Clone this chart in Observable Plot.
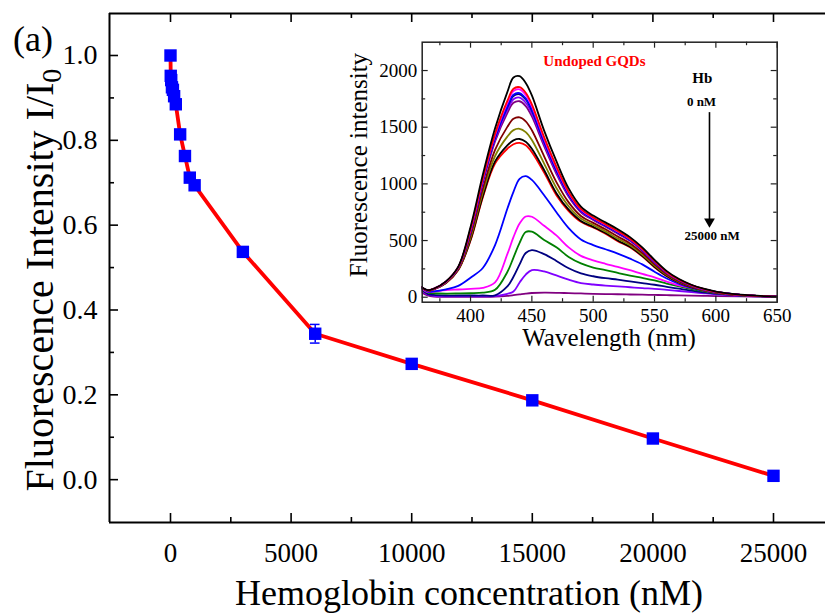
<!DOCTYPE html>
<html><head><meta charset="utf-8">
<script src="https://cdn.jsdelivr.net/npm/d3@7"></script>
<script src="https://cdn.jsdelivr.net/npm/@observablehq/plot@0.6"></script>
<style>
html,body{margin:0;padding:0;background:#fff;}
#chart{position:relative;width:825px;height:615px;overflow:hidden;font-family:"Liberation Serif","Times New Roman",serif;}
#chart svg{position:absolute;}
#chart svg text{font-family:"Liberation Serif","Times New Roman",serif !important;}
</style></head><body><div id="chart"></div>
<script>
// ---------- main chart data ----------
const concentration = [0, 10, 30, 60, 100, 150, 220, 400, 600, 800, 1000, 3000, 6000, 10000, 15000, 20000, 25000];
const ratio = [1.000, 0.952, 0.942, 0.925, 0.919, 0.904, 0.885, 0.814, 0.763, 0.712, 0.694, 0.537, 0.344, 0.273, 0.187, 0.097, 0.009];
const ratioErr = [0, 0.004, 0.004, 0.004, 0.004, 0.004, 0.004, 0.006, 0.006, 0.006, 0.006, 0.008, 0.022, 0.008, 0.008, 0.006, 0.006];
const xTicks = [0, 5000, 10000, 15000, 20000, 25000];
const xTickLabels = ["0", "5000", "10000", "15000", "20000", "25000"];
const xMinorTicks = [2500, 7500, 12500, 17500, 22500];
const yTicks = [0, 0.2, 0.4, 0.6, 0.8, 1.0];
const yTickLabels = ["0.0", "0.2", "0.4", "0.6", "0.8", "1.0"];
const yMinorTicks = [0.1, 0.3, 0.5, 0.7, 0.9];

// ---------- inset spectra data ----------
const wavelength = [360,365,370,380,390,400,410,420,430,435,440,445,450,460,470,480,490,500,510,520,530,540,550,560,570,580,590,600,620,650];
const spectraColors = ["#000000","#FF0000","#FF00FF","#0000FF","#000080","#8000FF","#800080","#800000","#808000","#000000","#FF0000","#0000FF","#FF00FF","#008000","#000080","#8000FF","#800080"];
const spec00 = [90,62,75,140,270,620,1080,1490,1810,1938,1950,1890,1780,1470,1200,960,800,720,660,600,530,440,330,230,160,110,75,50,22,5];
const spec01 = [89,61,74,138,265,601,1049,1441,1732,1839,1853,1804,1702,1412,1153,929,779,704,644,584,516,427,320,223,155,107,73,48,21,5];
const spec02 = [89,61,74,137,264,597,1042,1431,1715,1819,1834,1785,1685,1399,1143,922,774,700,641,580,513,425,318,221,154,106,72,48,21,5];
const spec03 = [89,61,74,136,263,590,1031,1413,1687,1787,1801,1754,1657,1379,1126,911,767,694,635,574,508,420,314,219,152,105,71,48,21,5];
const spec04 = [89,61,74,136,262,588,1027,1408,1677,1776,1790,1744,1647,1372,1120,907,764,692,633,572,506,419,313,218,151,104,71,47,21,5];
const spec05 = [88,61,73,135,261,582,1017,1392,1652,1747,1761,1716,1622,1353,1105,897,757,687,628,567,502,415,309,216,150,103,70,47,21,5];
const spec06 = [88,61,73,134,259,575,1006,1375,1625,1715,1729,1686,1595,1333,1089,886,750,681,623,561,497,410,306,213,148,102,69,46,21,5];
const spec07 = [87,60,72,131,252,546,957,1300,1503,1574,1587,1552,1473,1243,1016,837,717,656,599,536,475,391,290,202,140,96,66,44,20,5];
const spec08 = [86,59,71,128,246,526,923,1246,1417,1474,1486,1457,1387,1179,964,803,694,637,581,517,459,377,279,195,135,93,63,42,19,5];
const spec09 = [85,58,70,126,242,507,892,1198,1340,1384,1396,1372,1310,1122,918,772,673,621,566,501,445,365,269,188,130,89,61,41,18,5];
const spec10 = [85,58,70,125,240,500,880,1180,1310,1350,1362,1340,1280,1100,900,760,665,615,560,495,440,360,265,185,128,88,60,40,18,5];
const spec11 = [85,50,52,70,100,172,258,460,780,930,1045,1068,1035,900,750,610,510,460,423,385,340,290,225,165,118,82,58,40,18,5];
const spec12 = [80,45,50,62,68,74,82,130,380,530,650,712,710,630,545,440,365,325,295,268,238,205,175,138,105,82,58,40,18,5];
const spec13 = [75,40,35,32,33,35,40,65,222,350,480,575,578,505,440,355,298,262,240,215,190,170,148,120,95,72,52,36,17,5];
const spec14 = [70,30,20,15,15,15,15,17,95,180,290,390,415,380,320,255,210,185,168,155,140,125,110,92,75,58,43,31,15,5];
const spec15 = [60,25,12,8,8,8,8,10,30,50,130,200,240,228,192,155,125,112,103,96,88,80,74,65,55,45,35,26,13,5];
const spec16 = [45,15,5,3,3,3,3,5,12,18,25,32,37,40,39,36,33,30,28,26,24,22,20,18,16,14,12,10,7,4];
const spectra = [spec00,spec01,spec02,spec03,spec04,spec05,spec06,spec07,spec08,spec09,spec10,spec11,spec12,spec13,spec14,spec15,spec16];
const inXTicks = [400, 450, 500, 550, 600, 650];
const inXTickLabels = ["400", "450", "500", "550", "600", "650"];
const inXMinorTicks = [375, 425, 475, 525, 575, 625];
const inYTicks = [0, 500, 1000, 1500, 2000];
const inYTickLabels = ["0", "500", "1000", "1500", "2000"];
const inYMinorTicks = [250, 750, 1250, 1750];

// ---------- main plot ----------
const FONT = "Liberation Serif";
const W = 825, H = 615, mL = 109, mT = 13, mB = 93, mR = 0;
const innerW = W - mL - mR, innerH = H - mT - mB;
const xDom = [-2529, 27156], yDom = [-0.101, 1.099];
const points = concentration.map((c, i) => ({c, r: ratio[i], e: ratioErr[i]}));

const main = Plot.plot({
  width: W, height: H, marginLeft: mL, marginTop: mT, marginBottom: mB, marginRight: mR,
  x: {domain: xDom},
  y: {domain: yDom},
  style: {fontFamily: FONT, background: "transparent", overflow: "visible"},
  marks: [
    Plot.ruleY([yDom[0]], {stroke: "black", strokeWidth: 2}),
    Plot.ruleY([yDom[1]], {stroke: "black", strokeWidth: 2}),
    Plot.ruleX([xDom[0]], {stroke: "black", strokeWidth: 2}),
    Plot.tickX(xTicks, {x: d => d, insetTop: innerH - 9, stroke: "black", strokeWidth: 1.6}),
    Plot.tickX(xTicks, {x: d => d, insetBottom: innerH - 9, stroke: "black", strokeWidth: 1.6}),
    Plot.tickX(xMinorTicks, {x: d => d, insetTop: innerH - 5, stroke: "black", strokeWidth: 1.6}),
    Plot.tickX(xMinorTicks, {x: d => d, insetBottom: innerH - 5, stroke: "black", strokeWidth: 1.6}),
    Plot.tickY(yTicks, {y: d => d, insetRight: innerW - 9, stroke: "black", strokeWidth: 1.6}),
    Plot.tickY(yMinorTicks, {y: d => d, insetRight: innerW - 5, stroke: "black", strokeWidth: 1.6}),
    Plot.axisX(xTicks, {anchor: "bottom", tickSize: 0, tickPadding: 20, fontSize: 27, fontFamily: FONT, fill: "black",
      tickFormat: d => xTickLabels[xTicks.indexOf(d)], label: null}),
    Plot.axisY(yTicks, {anchor: "left", tickSize: 0, tickPadding: 12, fontSize: 28, fontFamily: FONT, fill: "black",
      tickFormat: d => yTickLabels[yTicks.indexOf(d)], label: null}),
    Plot.line(points, {x: "c", y: "r", stroke: "#FF0000", strokeWidth: 3.8}),
    Plot.ruleX(points, {x: "c", y1: d => d.r - d.e, y2: d => d.r + d.e, stroke: "#0000FF", strokeWidth: 1.5}),
    Plot.ruleY(points, {y: d => d.r + d.e, x1: d => d.c - 200, x2: d => d.c + 200, stroke: "#0000FF", strokeWidth: 1.5}),
    Plot.ruleY(points, {y: d => d.r - d.e, x1: d => d.c - 200, x2: d => d.c + 200, stroke: "#0000FF", strokeWidth: 1.5}),
    Plot.dot(points, {x: "c", y: "r", symbol: "square", r: 7, fill: "#0000FF", stroke: "none"})
  ]
});
main.style.left = "0px"; main.style.top = "0px";
const ms = d3.select(main);
ms.append("text").attr("x", 13).attr("y", 51).attr("text-anchor", "start").attr("font-size", 36)
  .attr("fill", "black").text("(a)");
const yt = ms.append("text").attr("transform", "translate(53,280) rotate(-90)").attr("text-anchor", "middle")
  .attr("font-size", 40).attr("fill", "black");
yt.append("tspan").text("Fluorescence Intensity I/I");
yt.append("tspan").attr("dy", "0.28em").attr("font-size", "28").text("0");
ms.append("text").attr("x", 469).attr("y", 605).attr("text-anchor", "middle").attr("font-size", 36)
  .attr("fill", "black").text("Hemoglobin concentration (nM)");
document.getElementById("chart").appendChild(main);

// ---------- inset plot ----------
const iLeft = 340, iTop = 28, iW = 450, iH = 335;
const imL = 81.7, imT = 13.7, imR = 13.3, imB = 61.3;
const iInnerW = iW - imL - imR, iInnerH = iH - imT - imB;
const lineMarks = [];
for (let i = spectra.length - 1; i >= 0; i--) {
  const vals = spectra[i];
  lineMarks.push(Plot.line(wavelength, {x: d => d, y: (d, j) => vals[j], stroke: spectraColors[i], strokeWidth: 1.8, curve: "catmull-rom", clip: true}));
}
const inset = Plot.plot({
  width: iW, height: iH, marginLeft: imL, marginTop: imT, marginRight: imR, marginBottom: imB,
  x: {domain: [360.6, 650]},
  y: {domain: [-44, 2250]},
  style: {fontFamily: FONT, background: "transparent", overflow: "visible"},
  marks: [
    ...lineMarks,
    Plot.frame({stroke: "#222", strokeWidth: 1.5}),
    Plot.tickX(inXTicks, {x: d => d, insetTop: iInnerH - 6, stroke: "#222", strokeWidth: 1.2}),
    Plot.tickX(inXTicks, {x: d => d, insetBottom: iInnerH - 6, stroke: "#222", strokeWidth: 1.2}),
    Plot.tickX(inXMinorTicks, {x: d => d, insetTop: iInnerH - 3.5, stroke: "#222", strokeWidth: 1.2}),
    Plot.tickX(inXMinorTicks, {x: d => d, insetBottom: iInnerH - 3.5, stroke: "#222", strokeWidth: 1.2}),
    Plot.tickY(inYTicks, {y: d => d, insetRight: iInnerW - 6, stroke: "#222", strokeWidth: 1.2}),
    Plot.tickY(inYTicks, {y: d => d, insetLeft: iInnerW - 6, stroke: "#222", strokeWidth: 1.2}),
    Plot.tickY(inYMinorTicks, {y: d => d, insetRight: iInnerW - 3.5, stroke: "#222", strokeWidth: 1.2}),
    Plot.tickY(inYMinorTicks, {y: d => d, insetLeft: iInnerW - 3.5, stroke: "#222", strokeWidth: 1.2}),
    Plot.axisX(inXTicks, {anchor: "bottom", tickSize: 0, tickPadding: 6, fontSize: 19, fontFamily: FONT, fill: "black",
      tickFormat: d => inXTickLabels[inXTicks.indexOf(d)], label: null}),
    Plot.axisY(inYTicks, {anchor: "left", tickSize: 0, tickPadding: 5, fontSize: 19, fontFamily: FONT, fill: "black",
      tickFormat: d => inYTickLabels[inYTicks.indexOf(d)], label: null}),
    Plot.text(["Undoped GQDs"], {x: 501, y: 2080, text: d => d, fill: "#FF0000", fontWeight: "bold", fontSize: 15, fontFamily: FONT}),
    Plot.text(["Hb"], {x: 588.9, y: 1930, text: d => d, fill: "black", fontWeight: "bold", fontSize: 15, fontFamily: FONT}),
    Plot.text(["0 nM"], {x: 588.3, y: 1724, text: d => d, fill: "black", fontWeight: "bold", fontSize: 13, fontFamily: FONT}),
    Plot.text(["25000 nM"], {x: 596.9, y: 545, text: d => d, fill: "black", fontWeight: "bold", fontSize: 13, fontFamily: FONT}),
    Plot.link([0], {x1: 594.8, x2: 594.8, y1: 1633, y2: 690, stroke: "black", strokeWidth: 1.6}),
    Plot.dot([0], {x: 594.8, y: 668, symbol: "triangle", rotate: 180, r: 4, fill: "black", stroke: "none"})
  ]
});
inset.style.left = iLeft + "px"; inset.style.top = iTop + "px";
const is = d3.select(inset);
is.append("text").attr("transform", `translate(${367 - iLeft},${165 - iTop}) rotate(-90)`).attr("text-anchor", "middle")
  .attr("font-size", 25).attr("fill", "black").text("Fluorescence intensity");
is.append("text").attr("x", 609 - iLeft).attr("y", 346 - iTop).attr("text-anchor", "middle")
  .attr("font-size", 25).attr("fill", "black").text("Wavelength (nm)");
document.getElementById("chart").appendChild(inset);
</script></body></html>
